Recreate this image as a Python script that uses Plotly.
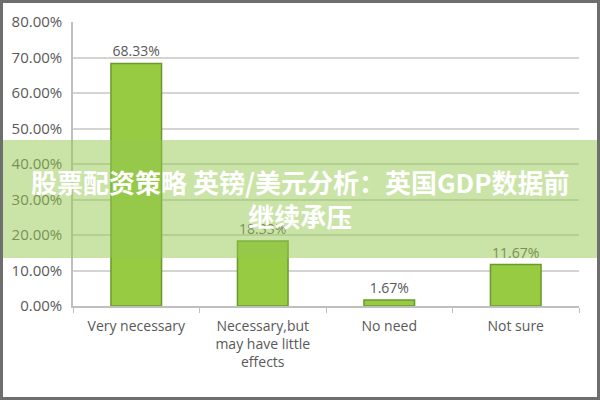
import plotly.graph_objects as go

categories = ["Very necessary", "Necessary,but<br>may have little<br>effects", "No need", "Not sure"]
values = [68.33, 18.33, 1.67, 11.67]
y_ticks = [0, 10, 20, 30, 40, 50, 60, 70, 80]
y_tick_labels = [f"{v:.2f}%" for v in y_ticks]
banner_text = "<b>股票配资策略 英镑/美元分析：英国GDP数据前<br>继续承压</b>"

W, H = 600, 400
ml, mr, mt, mb = 73, 21, 22, 94
pw, ph = W - ml - mr, H - mt - mb

def px_x(x):
    return (x - ml) / pw

def px_y(y):
    return (H - mb - y) / ph

fig = go.Figure()
fig.add_trace(go.Bar(
    x=categories, y=values, width=0.4,
    marker=dict(color="#96cb42", line=dict(color="#6a9a2c", width=1.5)),
    text=[f"{v:.2f}%" for v in values], textposition="outside",
    textfont=dict(family="Open Sans", size=14, color="#595959"),
    cliponaxis=False,
))

fig.update_layout(
    width=W, height=H,
    margin=dict(l=ml, r=mr, t=mt, b=mb),
    paper_bgcolor="white", plot_bgcolor="white",
    showlegend=False,
    font=dict(family="Open Sans", color="#595959"),
    xaxis=dict(showline=True, linecolor="#bfbfbf", linewidth=1.5,
               ticks="outside", tickcolor="#bfbfbf", ticklen=5,
               tickson="boundaries", ticklabelstandoff=6,
               tickfont=dict(size=14, color="#595959")),
    yaxis=dict(range=[0, 80], tickvals=y_ticks, ticktext=y_tick_labels,
               showgrid=True, gridcolor="#d4d4d4", gridwidth=2,
               showline=True, linecolor="#bfbfbf", linewidth=1.5,
               zeroline=False, ticks="", ticklabelstandoff=6,
               tickfont=dict(size=15, color="#595959")),
    shapes=[
        dict(type="rect", xref="paper", yref="paper", layer="above",
             x0=px_x(0), x1=px_x(W), y0=px_y(258), y1=px_y(140),
             fillcolor="rgba(150,200,80,0.5)", line=dict(width=0)),
        dict(type="rect", xref="paper", yref="paper", layer="above",
             x0=px_x(1.5), x1=px_x(W - 1.5), y0=px_y(H - 1.5), y1=px_y(1.5),
             fillcolor="rgba(0,0,0,0)", line=dict(color="#6e6e6e", width=3)),
    ],
    annotations=[
        dict(text=banner_text, xref="paper", yref="paper",
             x=px_x(300), y=px_y(199), xanchor="center", yanchor="middle",
             showarrow=False, align="center",
             font=dict(family="Noto Sans CJK SC", size=26, color="white"),
             ),
    ],
)

fig.write_html("out.html", config={"displayModeBar": False},
               post_script="document.body.style.margin='0';")
